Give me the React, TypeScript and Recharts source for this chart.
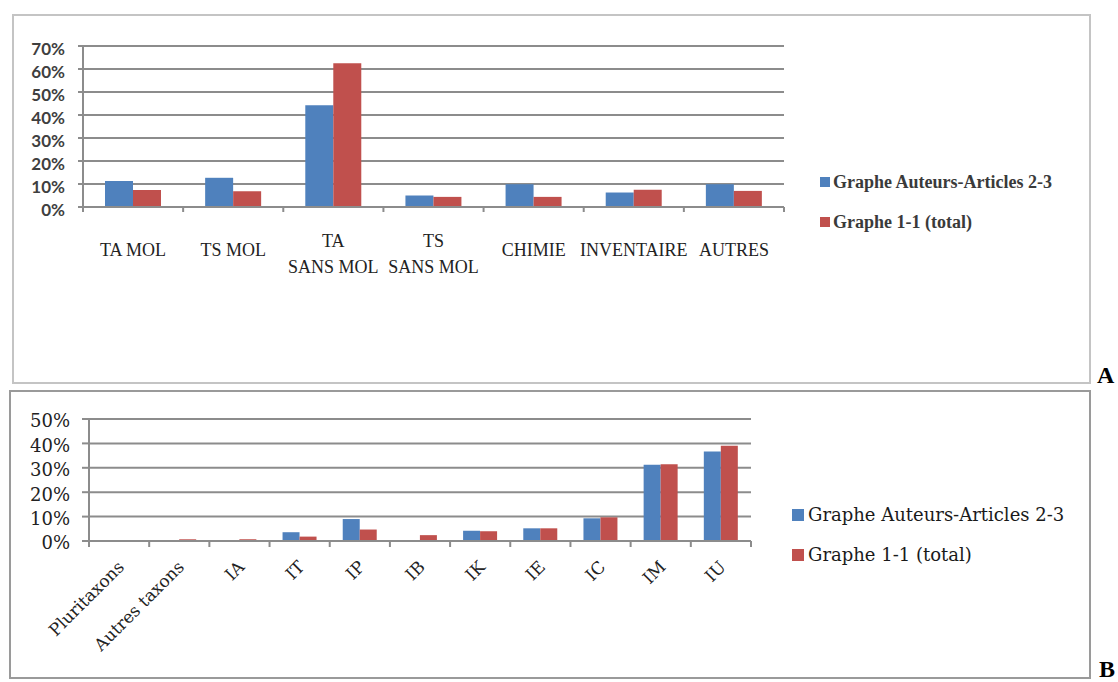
import React from 'react';
import { BarChart, Bar, XAxis, YAxis, CartesianGrid, Legend } from 'recharts';

// ---------- Data ----------
const categoriesA = ['TA MOL', 'TS MOL', 'TA\nSANS MOL', 'TS\nSANS MOL', 'CHIMIE', 'INVENTAIRE', 'AUTRES'];
const auteursA = [11.3, 12.7, 44.2, 5.0, 9.9, 6.3, 9.9];
const totalA = [7.4, 6.8, 62.5, 4.4, 4.4, 7.5, 7.0];
const ticksA = [0, 10, 20, 30, 40, 50, 60, 70];

const categoriesB = ['Pluritaxons', 'Autres taxons', 'IA', 'IT', 'IP', 'IB', 'IK', 'IE', 'IC', 'IM', 'IU'];
const auteursB = [0, 0, 0, 3.6, 9.0, 0.4, 4.2, 5.2, 9.3, 31.2, 36.7];
const totalB = [0, 0.7, 0.7, 1.8, 4.7, 2.4, 4.0, 5.2, 9.7, 31.5, 39.0];
const ticksB = [0, 10, 20, 30, 40, 50];

const seriesNames = ['Graphe Auteurs-Articles 2-3', 'Graphe 1-1 (total)'];
const seriesColors = ['#4F81BD', '#C0504D'];
const panelLetters = ['A', 'B'];

// ---------- Layout constants ----------
const AXIS = '#8c8c8c';
const A_PLOT_LEFT = 83;
const A_PLOT_RIGHT = 784;
const B_PLOT_LEFT = 89;
const B_PLOT_RIGHT = 751;

const dataA = categoriesA.map((c, i) => ({ cat: c, a: auteursA[i], t: totalA[i] }));
const dataB = categoriesB.map((c, i) => ({ cat: c, a: auteursB[i], t: totalB[i] }));

const halfBand = (payload: any, fallback: number) =>
  payload && typeof payload.offset === 'number' && payload.offset > 0 ? payload.offset : fallback;

const TickA = (props: any) => {
  const { x, y, payload, index, visibleTicksCount } = props;
  const half = halfBand(payload, (A_PLOT_RIGHT - A_PLOT_LEFT) / categoriesA.length / 2);
  const lines = String(payload.value).split('\n');
  return (
    <g>
      <line x1={x - half} x2={x - half} y1={y} y2={y + 5} stroke={AXIS} strokeWidth={2} />
      {index === visibleTicksCount - 1 && (
        <line x1={x + half} x2={x + half} y1={y} y2={y + 5} stroke={AXIS} strokeWidth={2} />
      )}
      <text
        x={x}
        textAnchor="middle"
        fontFamily="'Liberation Serif', serif"
        fontSize={18}
        fill="#222"
      >
        {lines.length === 1 ? (
          <tspan x={x} y={y + 49}>{lines[0]}</tspan>
        ) : (
          lines.map((l, i) => (
            <tspan key={i} x={x} y={y + 40 + i * 26}>{l}</tspan>
          ))
        )}
      </text>
    </g>
  );
};

const YTickA = (props: any) => {
  const { x, y, payload } = props;
  return (
    <text x={x} y={y + 3} dy="0.355em" textAnchor="end" fontFamily="Lato, sans-serif" fontWeight={700} fontSize={17} fill="#3f3f3f">
      {`${payload.value}%`}
    </text>
  );
};

const TickB = (props: any) => {
  const { x, y, payload, index, visibleTicksCount } = props;
  const half = halfBand(payload, (B_PLOT_RIGHT - B_PLOT_LEFT) / categoriesB.length / 2);
  const ax = x + 6;
  const ay = y + 27;
  return (
    <g>
      <line x1={x - half} x2={x - half} y1={y} y2={y + 6} stroke={AXIS} strokeWidth={2} />
      {index === visibleTicksCount - 1 && (
        <line x1={x + half} x2={x + half} y1={y} y2={y + 6} stroke={AXIS} strokeWidth={2} />
      )}
      <text
        x={ax}
        y={ay}
        textAnchor="end"
        transform={`rotate(-45 ${ax} ${ay})`}
        fontFamily="'DejaVu Serif', serif"
        fontSize={17}
        fill="#222"
      >
        {payload.value}
      </text>
    </g>
  );
};

const YTickB = (props: any) => {
  const { x, y, payload } = props;
  return (
    <text x={x} y={y + 2} dy="0.355em" textAnchor="end" fontFamily="'DejaVu Serif', serif" fontSize={18} fill="#222">
      {`${payload.value}%`}
    </text>
  );
};

const makeLegend = (font: React.CSSProperties, sq: number, gap: number, rowH: number) => (props: any) => {
  const payload = [...(props.payload || [])].sort(
    (p: any, q: any) => seriesNames.indexOf(p.value) - seriesNames.indexOf(q.value)
  );
  return (
    <div style={{ margin: 0, padding: 0 }}>
      {payload.map((p: any, i: number) => (
        <div key={i} style={{ display: 'flex', alignItems: 'center', height: rowH, whiteSpace: 'nowrap' }}>
          <span style={{ display: 'inline-block', width: sq, height: sq, background: p.color, marginRight: gap, flex: 'none' }} />
          <span style={font}>{p.value}</span>
        </div>
      ))}
    </div>
  );
};

const LegendA = makeLegend(
  { fontFamily: "'Liberation Serif', serif", fontWeight: 700, fontSize: 18, color: '#3a3a3a', lineHeight: '20px' },
  10,
  3,
  40
);
const LegendB = makeLegend(
  { fontFamily: "'DejaVu Serif', serif", fontSize: 18, color: '#1a1a1a', lineHeight: '20px' },
  12,
  4,
  40
);

export default function App() {
  return (
    <div style={{ position: 'absolute', left: 0, top: 0, width: 1118, height: 682, background: '#fff', overflow: 'hidden' }}>
      {/* Frame A */}
      <div style={{ position: 'absolute', left: 12, top: 14, width: 1079, height: 370, border: '2px solid #c4c4c4', boxSizing: 'border-box' }} />
      {/* Frame B */}
      <div style={{ position: 'absolute', left: 9, top: 390, width: 1082, height: 289, border: '2px solid #9a9a9a', boxSizing: 'border-box' }} />

      <div style={{ position: 'absolute', left: 0, top: 0 }}>
        <BarChart width={1090} height={300} data={dataA} margin={{ top: 46, right: 36, bottom: 0, left: 0 }} barGap={0} barCategoryGap={22}>
          <CartesianGrid vertical={false} stroke={AXIS} strokeWidth={2} />
          <XAxis
            dataKey="cat"
            height={93}
            interval={0}
            tickSize={0}
            tickMargin={0}
            tickLine={false}
            axisLine={{ stroke: AXIS, strokeWidth: 2 }}
            tick={(p: any) => <TickA {...p} />}
          />
          <YAxis
            width={83}
            domain={[0, 70]}
            ticks={ticksA}
            interval={0}
            tickSize={5}
            tickMargin={13}
            axisLine={{ stroke: AXIS, strokeWidth: 2 }}
            tickLine={{ stroke: AXIS, strokeWidth: 2 }}
            tick={(p: any) => <YTickA {...p} />}
          />
          <Legend
            layout="vertical"
            align="right"
            verticalAlign="top"
            width={270}
            wrapperStyle={{ left: 820, top: 162, width: 270 }}
            content={(p: any) => <LegendA {...p} />}
          />
          <Bar dataKey="a" name={seriesNames[0]} fill={seriesColors[0]} isAnimationActive={false} />
          <Bar dataKey="t" name={seriesNames[1]} fill={seriesColors[1]} isAnimationActive={false} />
        </BarChart>
      </div>

      <div style={{ position: 'absolute', left: 0, top: 391 }}>
        <BarChart width={1090} height={287} data={dataB} margin={{ top: 28, right: 41, bottom: 0, left: 0 }} barGap={0} barSize={17}>
          <CartesianGrid vertical={false} stroke={AXIS} strokeWidth={2} />
          <XAxis
            dataKey="cat"
            height={137}
            interval={0}
            tickSize={0}
            tickMargin={0}
            tickLine={false}
            axisLine={{ stroke: AXIS, strokeWidth: 2 }}
            tick={(p: any) => <TickB {...p} />}
          />
          <YAxis
            width={89}
            domain={[0, 50]}
            ticks={ticksB}
            interval={0}
            tickSize={7}
            tickMargin={12}
            axisLine={{ stroke: AXIS, strokeWidth: 2 }}
            tickLine={{ stroke: AXIS, strokeWidth: 2 }}
            tick={(p: any) => <YTickB {...p} />}
          />
          <Legend
            layout="vertical"
            align="right"
            verticalAlign="top"
            width={298}
            wrapperStyle={{ left: 792, top: 104, width: 298 }}
            content={(p: any) => <LegendB {...p} />}
          />
          <Bar dataKey="a" name={seriesNames[0]} fill={seriesColors[0]} isAnimationActive={false} />
          <Bar dataKey="t" name={seriesNames[1]} fill={seriesColors[1]} isAnimationActive={false} />
        </BarChart>
      </div>

      <svg width={1118} height={682} style={{ position: 'absolute', left: 0, top: 0, pointerEvents: 'none' }}>
        <text x={1097} y={383} fontFamily="'Liberation Serif', serif" fontWeight={700} fontSize={24} fill="#000">{panelLetters[0]}</text>
        <text x={1099} y={677} fontFamily="'Liberation Serif', serif" fontWeight={700} fontSize={24} fill="#000">{panelLetters[1]}</text>
      </svg>
    </div>
  );
}
